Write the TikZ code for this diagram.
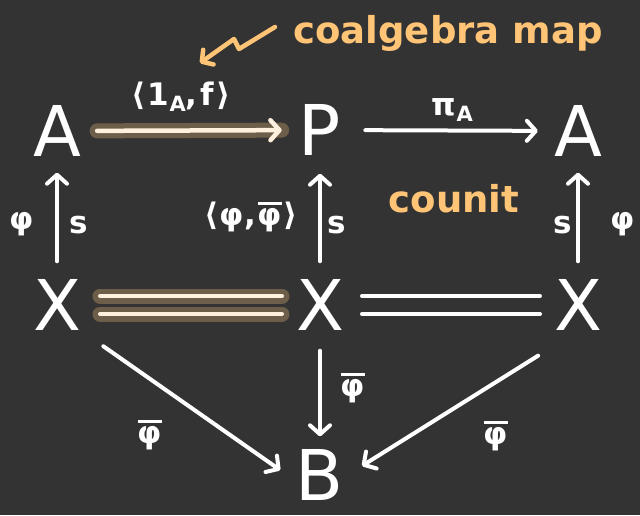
\documentclass[tikz,border=0pt]{standalone}
\usepackage{fontspec}
\setmainfont{DejaVu Sans}
\usetikzlibrary{arrows.meta}

\definecolor{board}{RGB}{51,51,51}
\definecolor{noteorange}{RGB}{255,196,118}
\definecolor{glowbrown}{RGB}{108,94,72}
\definecolor{cream}{RGB}{255,240,222}

% bar over phi
\newcommand{\phibar}{\setbox0\hbox{φ}\rlap{\rule[\dimexpr\ht0+3pt\relax]{\wd0}{3.5pt}}φ}
\newcommand{\subA}{\raisebox{-6pt}{\fontsize{21}{21}\selectfont A}}

\tikzset{
  obj/.style={font=\fontsize{70}{70}\selectfont, text=white, inner sep=0pt},
  lbl/.style={font=\fontsize{31}{31}\selectfont\bfseries, text=white, inner sep=0pt},
  remark/.style={font=\fontsize{37}{37}\selectfont\bfseries, text=noteorange, inner sep=0pt},
  arr/.style={draw=white, line width=4pt, line cap=round, line join=round,
    -{Straight Barb[length=9pt,width=20pt,line cap=round,line join=round]}},
  glow/.style={draw=glowbrown, line width=15pt, line cap=round},
  eqline/.style={draw=white, line width=4pt, line cap=round},
}

\begin{document}
\begin{tikzpicture}[x=1pt, y=-1pt]
	\fill[board] (0,0) rectangle (640,515);
	% objects
	\node[obj] (A1) at (57,131) {A};
	\node[obj] (P) at (320,130) {P};
	\node[obj] (A2) at (578,131) {A};
	\node[obj] (X1) at (57,305) {X};
	\node[obj] (X2) at (320,305) {X};
	\node[obj] (X3) at (578,305) {X};
	\node[obj] (B) at (320,475) {B};
	% top row
	\draw[glow, shorten <=16pt, shorten >=17pt] (A1) -- (P);
	\draw[arr, draw=cream, line width=4.5pt, shorten <=16pt, shorten >=17pt] (A1) -- (P);
	\draw[arr, shorten <=24pt, shorten >=16pt] (P) -- (A2);
	% verticals
	\draw[arr, shorten <=18pt, shorten >=16pt] (X1) -- (A1);
	\draw[arr, shorten <=18pt, shorten >=18pt] (X2) -- (P);
	\draw[arr, shorten <=18pt, shorten >=16pt] (X3) -- (A2);
	% equalities
	\foreach \s in {9,-9} {
		\draw[glow, shorten <=43pt, shorten >=38pt] ([yshift=\s pt]X1.center) -- ([yshift=\s pt]X2.center);
		\draw[eqline, draw=cream, shorten <=43pt, shorten >=38pt] ([yshift=\s pt]X1.center) -- ([yshift=\s pt]X2.center);
		\draw[eqline, shorten <=42pt, shorten >=38pt] ([yshift=\s pt]X2.center) -- ([yshift=\s pt]X3.center);
	}
	% into B
	\draw[arr, shorten <=20pt, shorten >=13pt] (X2) -- (B);
	\draw[arr, shorten <=27pt, shorten >=19pt] (X1.south east) -- ([yshift=-6pt]B.west);
	\draw[arr, shorten <=47pt, shorten >=21pt] (X3.south) -- ([yshift=-2pt]B.east);
	% labels
	\node[lbl] (lpair) at (181,97) {⟨\kern2pt1\subA,\kern3pt f\kern2pt⟩};
	\node[lbl] (lpi) at (452,110) {π\kern1pt\subA};
	\node[lbl] (lphi1) at (22,224) {φ};
	\node[lbl] (ls1) at (79,225) {s};
	\node[lbl] (lpair2) at (251,217) {⟨\kern1ptφ,\kern2pt\phibar\kern1pt⟩};
	\node[lbl] (ls2) at (337,225) {s};
	\node[lbl] (ls3) at (563,225) {s};
	\node[lbl] (lphi3) at (623,224) {φ};
	\node[lbl] (lbar2) at (353,388) {\phibar};
	\node[lbl] (lbar1) at (150,435) {\phibar};
	\node[lbl] (lbar3) at (496,436) {\phibar};
	% notes
	\node[remark] (coalg) at (448,33) {coalgebra map};
	\node[remark] (counit) at (454,199) {counit};
	\coordinate (hint) at (200,63);
	\draw[draw=noteorange, line width=4.5pt, line cap=round, line join=round,
		-{Straight Barb[length=8pt,width=18pt,line cap=round,line join=round]}]
		(275,27) -- (239,49) -- (234,39) -- (hint);
\end{tikzpicture}
\end{document}
